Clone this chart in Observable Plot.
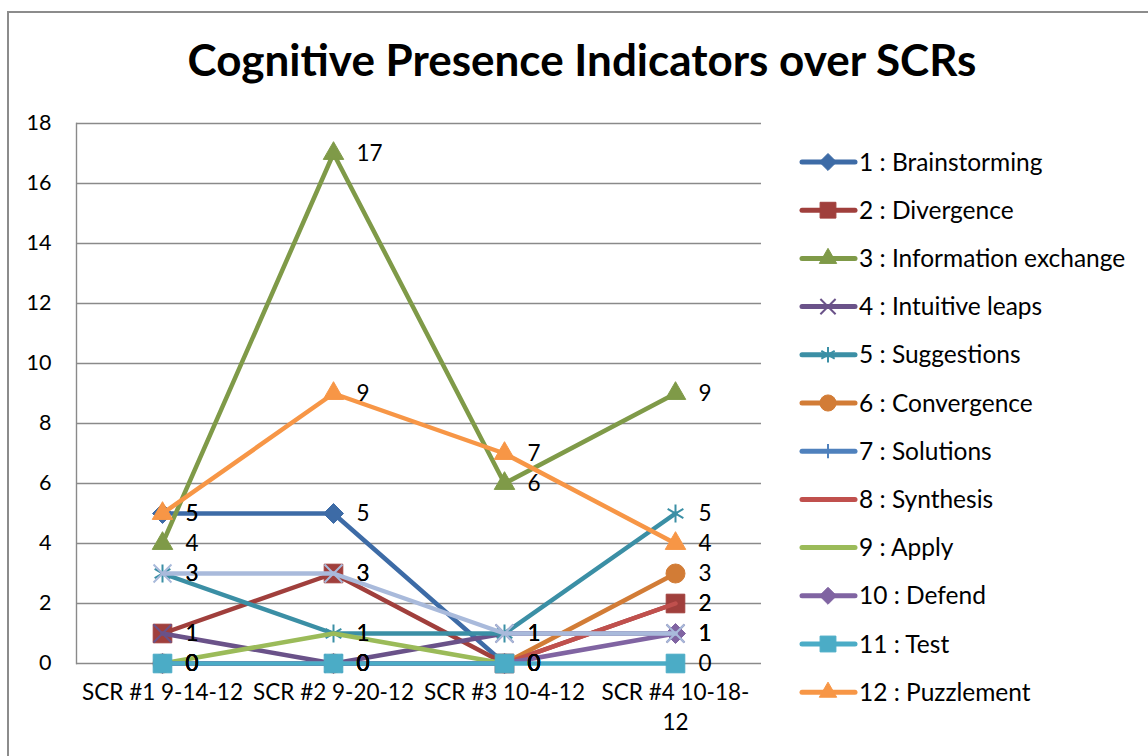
<!DOCTYPE html>
<html><head><meta charset="utf-8">
<script src="https://cdn.jsdelivr.net/npm/d3@7"></script>
<script src="https://cdn.jsdelivr.net/npm/@observablehq/plot@0.6"></script>
<style>
body{margin:0;background:#fff;font-family:Lato,"Open Sans",sans-serif;}
#wrap{position:relative;width:1148px;height:756px;overflow:hidden;background:#fff;}
#border{position:absolute;left:7px;top:11px;width:1200px;height:800px;border:2px solid #8c8c8c;box-sizing:border-box;}
#title{position:absolute;left:0;width:1164px;top:33px;text-align:center;font-weight:bold;font-size:44px;color:#000;font-family:Lato,sans-serif;}
#chart{position:absolute;left:0;top:0;}
#legend{position:absolute;left:0;top:0;}
</style></head><body>
<div id="wrap">
  <div id="border"></div>
  <div id="chart"></div>
  <div id="title">Cognitive Presence Indicators over SCRs</div>
  <svg id="legend" width="1148" height="756"></svg>
</div>
<script>
// ---- data ----
const categories = ["SCR #1 9-14-12", "SCR #2 9-20-12", "SCR #3 10-4-12", "SCR #4 10-18-12"];
const tickLabels = ["SCR #1 9-14-12", "SCR #2 9-20-12", "SCR #3 10-4-12", "SCR #4 10-18-\n12"];
const yTicks = [0, 2, 4, 6, 8, 10, 12, 14, 16, 18];

const seriesNames = [
  "1 : Brainstorming", "2 : Divergence", "3 : Information exchange", "4 : Intuitive leaps",
  "5 : Suggestions", "6 : Convergence", "7 : Solutions", "8 : Synthesis", "9 : Apply",
  "10 : Defend", "11 : Test", "12 : Puzzlement", "13"
];
const brainstorming = [5, 5, 0, null];
const divergence    = [1, 3, 0, 2];
const information   = [4, 17, 6, 9];
const intuitive     = [1, 0, 1, 1];
const suggestions   = [3, 1, 1, 5];
const convergence   = [0, 0, 0, 3];
const solutions     = [0, 0, 0, null];
const synthesis     = [0, 0, 0, 2];
const apply         = [0, 1, 0, null];
const defend        = [0, 0, 0, 1];
const test          = [0, 0, 0, 0];
const puzzlement    = [5, 9, 7, 4];
const series13      = [3, 3, 1, 1];
const seriesValues = [brainstorming, divergence, information, intuitive, suggestions, convergence,
  solutions, synthesis, apply, defend, test, puzzlement, series13];

const seriesColors = ["#3d6ba6", "#a03f3c", "#7f9a48", "#6a5289", "#3b8fa5", "#d27c36",
  "#4f81bd", "#c0504d", "#9bbb59", "#8064a2", "#4bacc6", "#f79646", "#a9badb"];
const seriesSymbols = ["diamond2", "square", "triangle", "times", "asterisk", "circle",
  "plus", null, null, "diamond2", "square", "triangle", "times"];
const inLegend = [true, true, true, true, true, true, true, true, true, true, true, true, false];

// ---- build table ----
const rows = seriesNames.map((name, i) =>
  categories.map((c, j) => ({series: name, idx: i, cat: c, value: seriesValues[i][j]})));
const flat = rows.flat().filter(d => d.value != null);

const filledSyms = new Set(["square", "triangle", "circle", "diamond2"]);
const symR = {diamond2: 9, square: 10.5, triangle: 7.6, circle: 9.5, times: 8.2, asterisk: 8.6, plus: 5.5};

const marks = [
  Plot.gridY(yTicks, {stroke: "#8a8a8a", strokeOpacity: 1, strokeWidth: 1.4}),
  Plot.frame({anchor: "left", stroke: "#8a8a8a", strokeWidth: 1.4}),
  Plot.axisY(yTicks, {tickSize: 0, tickPadding: 25, fontSize: 21.5, fill: "#000"}),
  Plot.axisX({tickSize: 0, tickPadding: 16, fontSize: 22.5, fill: "#000", lineHeight: 1.3,
    tickFormat: d => tickLabels[categories.indexOf(d)]})
];
rows.forEach((r, i) => {
  const color = seriesColors[i];
  marks.push(Plot.line(r, {x: "cat", y: "value", stroke: color, strokeWidth: 4.5,
    strokeLinejoin: "round", strokeLinecap: "round"}));
  const s = seriesSymbols[i];
  if (s) {
    const pts = r.filter(d => d.value != null);
    if (filledSyms.has(s)) {
      marks.push(Plot.dot(pts, {x: "cat", y: "value", symbol: s, r: symR[s], fill: color, stroke: color, strokeWidth: 1}));
    } else {
      marks.push(Plot.dot(pts, {x: "cat", y: "value", symbol: s, r: symR[s], fill: "none", stroke: color, strokeWidth: 2}));
    }
  }
});
marks.push(Plot.text(flat, {x: "cat", y: "value", text: d => String(d.value), dx: 23,
  textAnchor: "start", fontSize: 22.5, fill: "#000"}));

const chart = Plot.plot({
  width: 1148, height: 756,
  marginLeft: 76, marginRight: 387, marginTop: 123, marginBottom: 93,
  style: {fontFamily: "Lato, sans-serif", background: "transparent"},
  x: {type: "point", domain: categories, padding: 0.5, label: null},
  y: {domain: [0, 18], label: null},
  marks
});
document.getElementById("chart").appendChild(chart);

// ---- legend ----
const leg = d3.select("#legend");
const legItems = seriesNames.map((n, i) => ({n, i})).filter(d => inLegend[d.i]);
legItems.forEach((d, k) => {
  const y = 162 + k * 48.2;
  const color = seriesColors[d.i];
  const g = leg.append("g");
  g.append("line").attr("x1", 802).attr("x2", 855).attr("y1", y).attr("y2", y)
    .attr("stroke", color).attr("stroke-width", 5).attr("stroke-linecap", "round");
  const s = seriesSymbols[d.i];
  if (s) {
    const map = {diamond2: d3.symbolDiamond2, square: d3.symbolSquare, triangle: d3.symbolTriangle,
      circle: d3.symbolCircle, times: d3.symbolTimes, asterisk: d3.symbolAsterisk, plus: d3.symbolPlus};
    const rr = symR[s] * 0.85;
    const path = d3.symbol(map[s], Math.PI * rr * rr)();
    const p = g.append("path").attr("d", path).attr("transform", `translate(828,${y})`);
    if (filledSyms.has(s)) p.attr("fill", color).attr("stroke", color);
    else p.attr("fill", "none").attr("stroke", color).attr("stroke-width", 2);
  }
  g.append("text").attr("x", 859).attr("y", y).attr("dy", "0.35em")
    .attr("font-size", 24.5).attr("font-family", "Lato, sans-serif").attr("fill", "#000").text(d.n);
});
</script>
</body></html>
